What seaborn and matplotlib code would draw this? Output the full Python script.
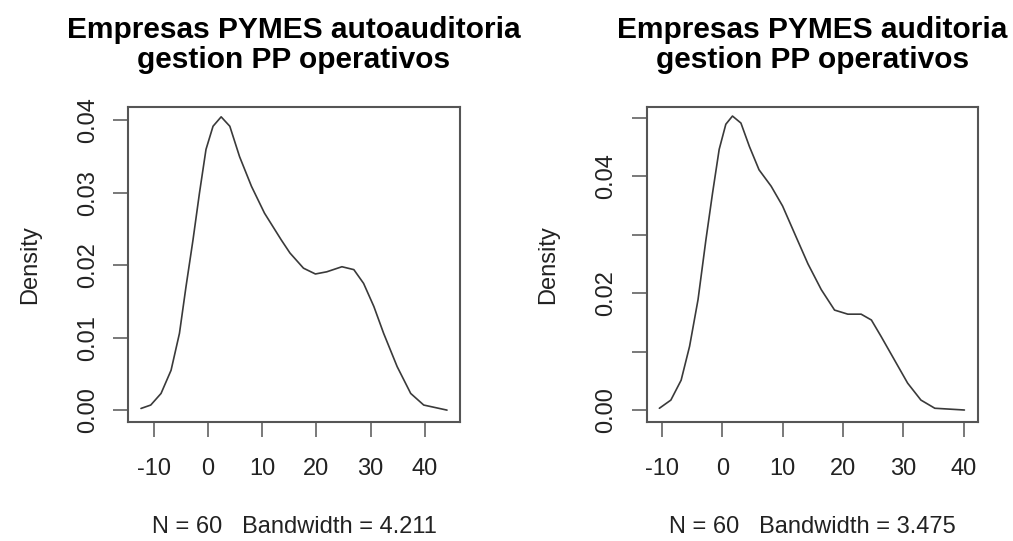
import matplotlib
matplotlib.use("Agg")
import matplotlib.pyplot as plt
import seaborn as sns
import pandas as pd

# Density curve of panel 1
x_left = [-12.4, -10.6, -8.7, -6.85, -5.3, -4.1, -2.8, -1.6, -0.4, 0.9, 2.4, 4.0,
          5.8, 8.0, 10.4, 13.5, 15.1, 17.6, 19.8, 21.9, 24.7, 26.9, 28.7, 30.6,
          32.4, 34.9, 37.4, 39.8, 44.1]
y_left = [0.00023, 0.0007, 0.0023, 0.0055, 0.0106, 0.0170, 0.0235, 0.0300, 0.0360,
          0.0392, 0.0405, 0.0392, 0.0350, 0.0309, 0.0272, 0.0235, 0.0217, 0.0196,
          0.0188, 0.0191, 0.0198, 0.0194, 0.0175, 0.0143, 0.0106, 0.0060, 0.0023,
          0.0007, 0.0000]

# Density curve of panel 2
x_right = [-10.4, -8.5, -6.8, -5.4, -4.0, -2.7, -1.6, -0.5, 0.6, 1.7, 3.1, 4.5,
           6.1, 8.1, 10.0, 12.2, 14.2, 16.4, 18.6, 20.8, 23.0, 24.7, 26.3, 28.5,
           30.7, 32.9, 35.2, 40.1]
y_right = [0.0003, 0.0017, 0.0051, 0.0109, 0.0189, 0.0291, 0.0371, 0.0446, 0.0489,
           0.0503, 0.0491, 0.0451, 0.0411, 0.0383, 0.0349, 0.0297, 0.0250, 0.0206,
           0.0171, 0.0164, 0.0164, 0.0154, 0.0126, 0.0086, 0.0046, 0.0017, 0.0003,
           0.0000]

titles = ["Empresas PYMES autoauditoria\ngestion PP operativos",
          "Empresas PYMES auditoria\ngestion PP operativos"]
subtitles = ["N = 60   Bandwidth = 4.211", "N = 60   Bandwidth = 3.475"]
x_ticks = [-10, 0, 10, 20, 30, 40]
y_ticks_left = [0.00, 0.01, 0.02, 0.03, 0.04]
y_labels_left = ["0.00", "0.01", "0.02", "0.03", "0.04"]
y_ticks_right = [0.00, 0.01, 0.02, 0.03, 0.04, 0.05]
y_labels_right = ["0.00", "", "0.02", "", "0.04", ""]

sns.set_theme(style="ticks")
plt.rcParams['font.family'] = ['Liberation Sans', 'DejaVu Sans']

W, H = 1013, 541
fig = plt.figure(figsize=(W / 100, H / 100), dpi=100)
fig.patch.set_facecolor("white")

boxes = [
    (128, 460, 106.7, 421.7),
    (646.7, 978.3, 106.7, 421.7),
]
xlims = [(-14.8, 46.5), (-12.5, 42.4)]
ylims = [(-0.0016, 0.0419), (-0.0020, 0.0519)]
datas = [(x_left, y_left), (x_right, y_right)]
yts = [(y_ticks_left, y_labels_left), (y_ticks_right, y_labels_right)]

for i in range(2):
    l, r, t, b = boxes[i]
    ax = fig.add_axes([l / W, 1 - b / H, (r - l) / W, (b - t) / H])
    df = pd.DataFrame({"x": datas[i][0], "y": datas[i][1]})
    sns.lineplot(data=df, x="x", y="y", ax=ax, color="#3a3a3a", linewidth=1.2,
                 sort=False, solid_joinstyle="round", solid_capstyle="round")
    ax.set_xlim(*xlims[i])
    ax.set_ylim(*ylims[i])
    ax.set_xticks(x_ticks)
    ax.set_xticklabels([str(v) for v in x_ticks])
    ax.set_yticks(yts[i][0])
    ax.set_yticklabels(yts[i][1])
    for s in ax.spines.values():
        s.set_visible(True)
        s.set_color("#555555")
        s.set_linewidth(1.5)
    ax.tick_params(axis="both", length=11, width=1.1, color="#555555",
                   labelsize=17, labelcolor="#222222", pad=15)
    ax.tick_params(axis="y", labelrotation=90, pad=10)
    for lab in ax.get_yticklabels():
        lab.set_va("center")
    ax.set_title(titles[i], fontsize=21.5, fontweight="bold", pad=28,
                 linespacing=1.08, color="black")
    ax.set_xlabel(subtitles[i], fontsize=17, labelpad=26, color="#222222")
    ax.set_ylabel("Density", fontsize=17, labelpad=26, color="#222222")
    ax.grid(False)

fig.savefig("out.png", dpi=100, facecolor="white")
